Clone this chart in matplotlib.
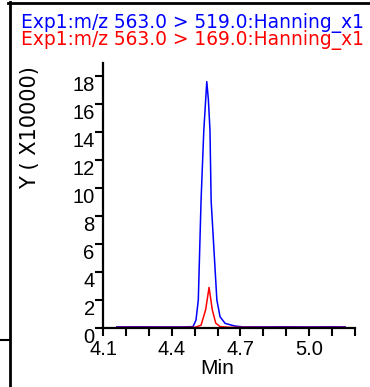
import numpy as np
import matplotlib.pyplot as plt
from matplotlib.lines import Line2D

# retention time (min) and intensity (x10000)
blue_t = [4.16, 4.25, 4.35, 4.45, 4.493, 4.506, 4.516, 4.528, 4.540, 4.553, 4.560, 4.567, 4.572,
          4.597, 4.611, 4.633, 4.676, 4.711, 4.80, 4.90, 5.00, 5.10, 5.157]
blue_y = [0.08, 0.09, 0.08, 0.08, 0.1, 0.57, 2.0, 9.1, 14.1, 17.6, 16.3, 14.1, 9.1,
          2.0, 0.8, 0.33, 0.14, 0.08, 0.08, 0.09, 0.08, 0.09, 0.08]

red_t = [4.16, 4.30, 4.45, 4.502, 4.528, 4.548, 4.563, 4.577, 4.592, 4.611, 4.65, 4.80, 5.00, 5.157]
red_y = [0.04, 0.04, 0.04, 0.05, 0.2, 1.3, 2.9, 1.3, 0.35, 0.1, 0.05, 0.04, 0.04, 0.04]

blue_name = "Exp1:m/z 563.0 > 519.0:Hanning_x1"
red_name = "Exp1:m/z 563.0 > 169.0:Hanning_x1"

x_ticks = np.round(np.arange(4.1, 5.25, 0.1), 1)
x_labels = ["4.1", "4.4", "4.7", "5.0"]
y_ticks = list(range(0, 19, 2))

W, H = 370, 387
fig = plt.figure(figsize=(W / 100, H / 100), dpi=100)
ax = fig.add_axes([103 / W, 1 - 328 / H, 252 / W, 265 / H])

ax.plot(blue_t, blue_y, color="#0000ff", lw=1.1)
ax.plot(red_t, red_y, color="#ff0000", lw=1.1)

ax.set_xlim(4.1, 5.2)
ax.set_ylim(0, 18.93)
for s in ["top", "right"]:
    ax.spines[s].set_visible(False)
for s in ["left", "bottom"]:
    ax.spines[s].set_linewidth(1.6)

tick_font = dict(family="Liberation Sans", size=14.5)
ax.set_xticks(x_ticks)
ax.set_xticklabels([l if l in x_labels else "" for l in [f"{v:.1f}" for v in x_ticks]], **tick_font)
ax.set_yticks(y_ticks)
ax.set_yticklabels([str(v) for v in y_ticks], **tick_font)
for lab in ax.get_yticklabels():
    lab.set_va("top")
ax.tick_params(axis="y", direction="out", length=6, width=1.5, pad=0)
ax.tick_params(axis="x", direction="out", length=5.5, width=1.5, pad=3)

fig.text(217 / W, 1 - 369 / H, "Min", ha="center", va="center", family="Liberation Sans", size=15)
fig.text(30 / W, 1 - 128 / H, "Y ( X10000)", rotation=90, ha="center", va="center",
         family="DejaVu Sans", size=15)

fig.text(21 / W, 1 - 28 / H, blue_name, color="#0000ff", family="DejaVu Sans", size=13.4,
         va="baseline")
fig.text(21 / W, 1 - 45 / H, red_name, color="#ff0000", family="DejaVu Sans", size=13.4,
         va="baseline")

# frame of the surrounding panel
fig.add_artist(Line2D([8 / W, 1], [1 - 3 / H, 1 - 3 / H], color="black", lw=2, transform=fig.transFigure))
fig.add_artist(Line2D([9.5 / W, 9.5 / W], [0, 1 - 2 / H], color="black", lw=2, transform=fig.transFigure))
fig.add_artist(Line2D([0, 9.5 / W], [1 - 340 / H, 1 - 340 / H], color="black", lw=1.5, transform=fig.transFigure))

fig.savefig("out.png", dpi=100)
